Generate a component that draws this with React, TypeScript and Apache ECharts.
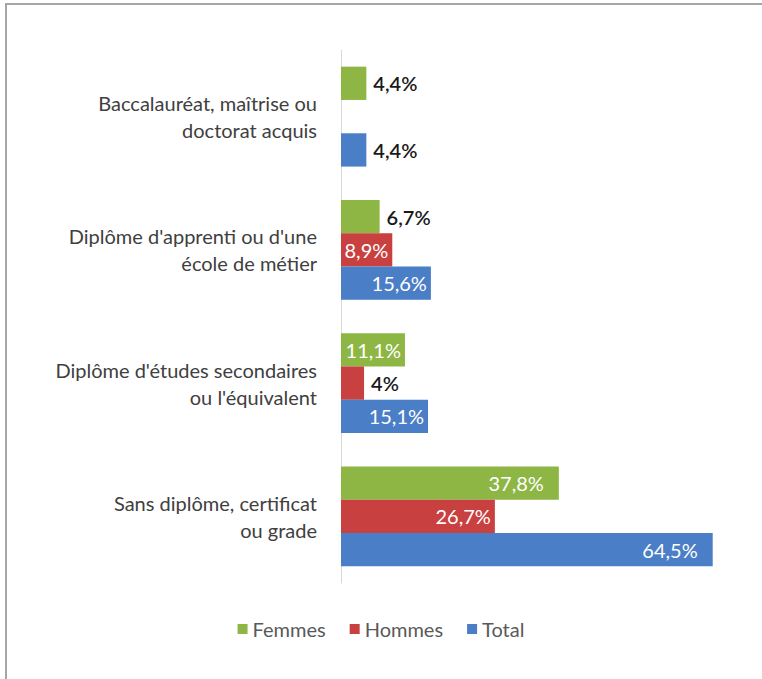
import React, { useEffect, useRef } from "react";
import * as echarts from "echarts";

const categories = [
  "Baccalauréat, maîtrise ou\ndoctorat acquis",
  "Diplôme d'apprenti ou d'une\nécole de métier",
  "Diplôme d'études secondaires\nou l'équivalent",
  "Sans diplôme, certificat\nou grade",
];
const femmes = [4.4, 6.7, 11.1, 37.8];
const hommes: (number | null)[] = [null, 8.9, 4.0, 26.7];
const total = [4.4, 15.6, 15.1, 64.5];
const seriesNames = ["Femmes", "Hommes", "Total"];
const colors = ["#8db645", "#c8403f", "#4a7ec6"];

const FONT = "Lato";

function fmt(v: number) {
  const s = Number.isInteger(v) ? String(v) : v.toFixed(1);
  return s.replace(".", ",") + "%";
}

function makeData(values: (number | null)[]) {
  return values.map((v) => {
    if (v == null) return { value: null };
    const outside = v < 8;
    return {
      value: v,
      label: outside
        ? { position: "right", distance: 7, color: "#1a1a1a", fontWeight: 600 }
        : { position: "insideRight", distance: v > 30 ? 15 : 4, color: "#ffffff" },
    };
  });
}

export default function App() {
  const ref = useRef<HTMLDivElement>(null);
  useEffect(() => {
    document.body.style.margin = "0";
    if (!ref.current) return;
    const chart = echarts.init(ref.current, null, { renderer: "svg" });
    const seriesData = [femmes, hommes, total];
    chart.setOption({
      animation: false,
      backgroundColor: "#ffffff",
      graphic: [
        {
          type: "rect",
          shape: { x: 6, y: 4, width: 800, height: 800 },
          style: { fill: "none", stroke: "#a6a6a6", lineWidth: 2 },
          silent: true,
        },
      ],
      legend: {
        top: 614,
        left: "center",
        itemWidth: 10,
        itemHeight: 10,
        itemGap: 24,
        icon: "rect",
        textStyle: { fontFamily: FONT, fontSize: 20, color: "#595959" },
        data: seriesNames,
      },
      grid: { left: 341, right: 17.6, top: 50, bottom: 679 - 583, containLabel: false },
      xAxis: {
        type: "value",
        min: 0,
        max: 70,
        show: false,
      },
      yAxis: {
        type: "category",
        inverse: true,
        data: categories,
        axisLine: { show: true, lineStyle: { color: "#d9d9d9", width: 1 } },
        axisTick: { show: false },
        axisLabel: {
          margin: 24,
          fontFamily: FONT,
          fontSize: 20,
          lineHeight: 27,
          color: "#404040",
          align: "right",
        },
        splitLine: { show: false },
      },
      series: seriesData.map((d, i) => ({
        name: seriesNames[i],
        type: "bar",
        data: makeData(d),
        itemStyle: { color: colors[i] },
        barGap: "0%",
        barCategoryGap: "25%",
        label: {
          show: true,
          fontFamily: FONT,
          fontSize: 20,
          formatter: (p: any) => fmt(p.value),
        },
      })),
    });
    return () => chart.dispose();
  }, []);
  return <div ref={ref} style={{ width: 762, height: 679 }} />;
}
